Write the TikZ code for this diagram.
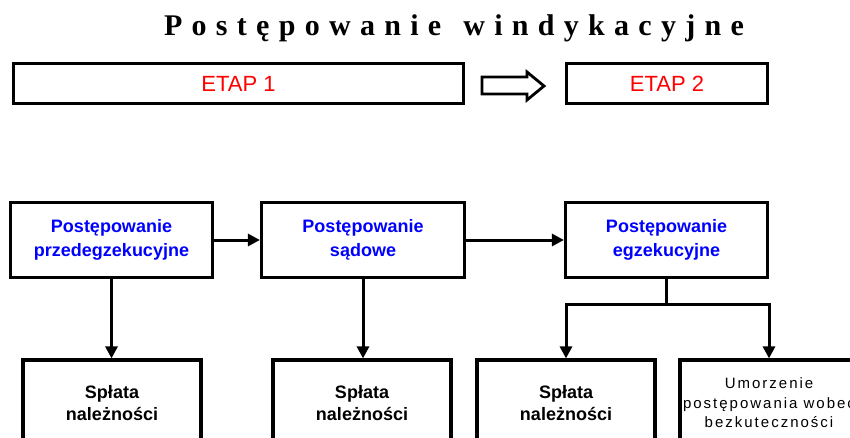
\documentclass[tikz,border=0pt]{standalone}
\usepackage{fontspec}
\setmainfont{Liberation Sans}
\newfontfamily\titlefont{Liberation Serif}
\usetikzlibrary{arrows.meta}
\newlength\lsp
\makeatletter
\def\lsout#1{\ls@out#1\@nil}
\def\ls@out#1#2\@nil{#1\ifx\relax#2\relax\else\kern\lsp\ls@out#2\@nil\fi}
\makeatother
\definecolor{pblue}{RGB}{0,0,255}
\definecolor{pred}{RGB}{255,0,0}
\begin{document}
\begin{tikzpicture}[x=1pt,y=-1pt,
  box/.style={draw, line width=3.2pt, inner sep=0pt, align=center},
  etap/.style={box, minimum height=40pt, text=pred, font=\fontsize{22}{26}\selectfont},
  stage/.style={box, minimum width=202pt, minimum height=75pt, text=pblue, font=\fontsize{18}{24}\selectfont\bfseries},
  result/.style={box, minimum width=178pt, minimum height=86pt, font=\fontsize{18}{22}\selectfont\bfseries},
  conn/.style={draw, line width=3pt, -{Triangle[length=12pt,width=12pt]}},
  joinline/.style={draw, line width=3pt}]
\useasboundingbox (0,0) rectangle (850,438);
\clip (0,0) rectangle (850,438);
\fill[white] (0,0) rectangle (850,438);
% title
\node (title) at (454,28) {\titlefont\bfseries\fontsize{30}{30}\selectfont\setlength\lsp{9.3pt}\lsout{Postępowanie}\hspace{22pt}\lsout{windykacyjne}};
% stages
\node[etap, minimum width=450pt] (etap1) at (238.5,83.5) {ETAP 1};
\node[etap, minimum width=201pt] (etap2) at (667,83.5) {ETAP 2};
\draw[line width=2.8pt, line join=miter] (482,77) -- (527,77) -- (527,72) -- (544,86) -- (527,100) -- (527,94) -- (482,94) -- cycle;
% process boxes
\node[stage] (p1) at (111.5,240) {Postępowanie\\przedegzekucyjne};
\node[stage, minimum width=203pt] (p2) at (363,240) {Postępowanie\\sądowe};
\node[stage] (p3) at (666.5,240) {Postępowanie\\egzekucyjne};
% results
\node[result] (r1) at (112,403) {Spłata\\należności};
\node[result] (r2) at (362,403) {Spłata\\należności};
\node[result] (r3) at (566,403) {Spłata\\należności};
\global\lsp=2pt
\node[result, font=\fontsize{15}{19.5}\selectfont] (r4) at (769,403) {\lsout{Umorzenie}\\\lsout{postępowania}\hspace{6pt}\lsout{wobec}\\\lsout{bezkuteczności}};
% connectors
\draw[conn] (p1) -- (p2);
\draw[conn] (p2) -- (p3);
\draw[conn] (p1.south) -- (p1.south |- r1.north);
\draw[conn] (p2.south) -- (p2.south |- r2.north);
\coordinate (br) at (666.5,304);
\draw[joinline] (p3.south) -- (br);
\draw[conn] (br) -| (r3.north);
\draw[conn] (br) -| (r4.north);
\end{tikzpicture}
\end{document}
